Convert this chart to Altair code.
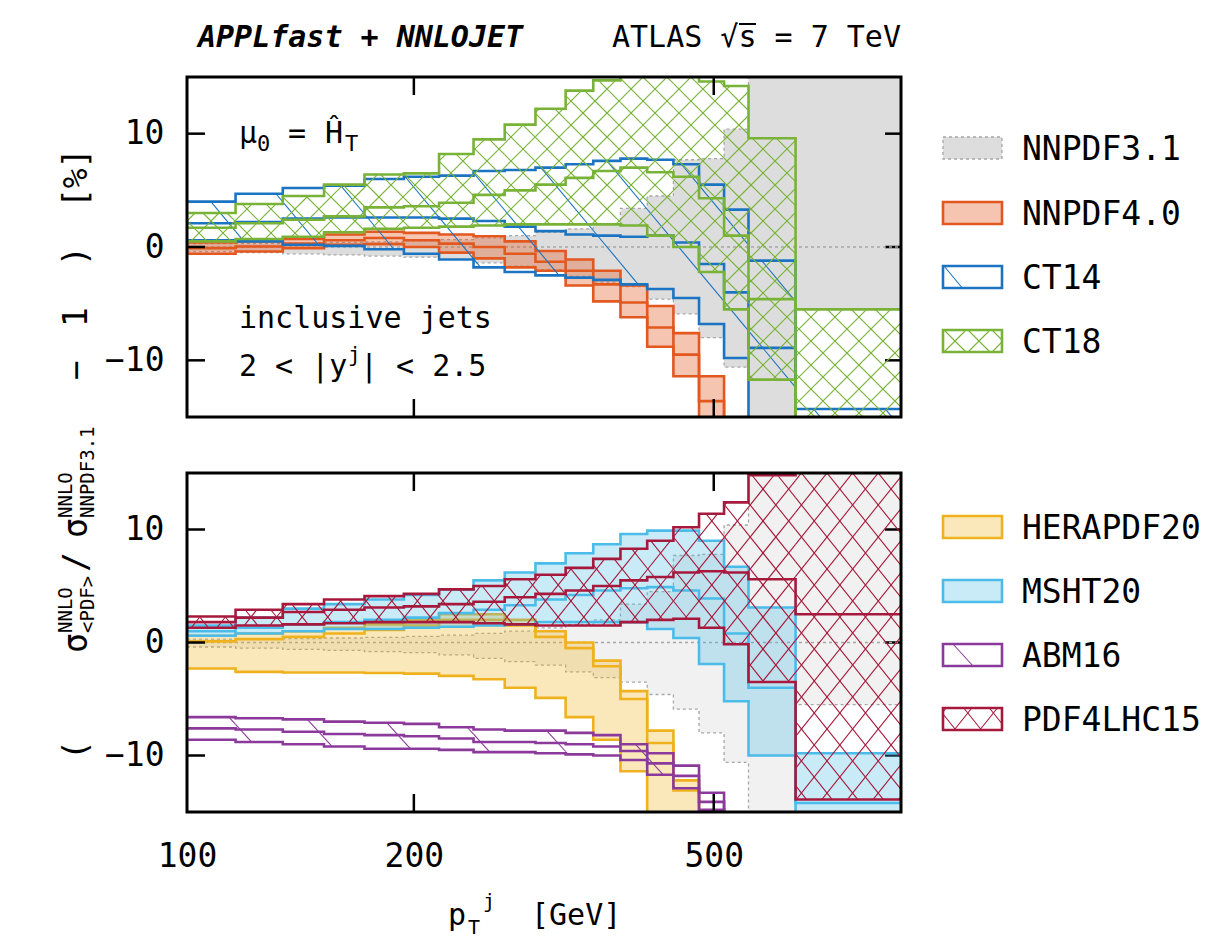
import math
import pandas as pd
import altair as alt

FONT = "DejaVu Sans Mono"

# ---------------------------------------------------------------- data
# pT bin edges [GeV]
EDGES = [100, 116, 134, 152, 172, 194, 216, 240, 264, 290, 318, 346, 376,
         408, 442, 478, 516, 556, 642, 886]

X_TICKS = [100, 200, 500]
Y_TICKS = [-10, 0, 10]

# ratio to NNPDF3.1 minus one, in percent: lower edge, central, upper edge per bin
NNPDF31_LO = [-0.4, -0.5, -0.6, -0.7, -0.8, -0.9, -1.1, -1.4, -1.7, -2.0, -2.6, -3.1, -3.5, -4.6, -5.9, -8.0, -10.6, -25.0, -5.5]
NNPDF31_C = [0.0, 0.0, 0.0, 0.0, 0.0, 0.0, 0.0, 0.0, 0.0, 0.0, 0.0, 0.0, 0.0, 0.0, 0.0, 0.0, 0.0, 0.0, 0.0]
NNPDF31_HI = [0.3, 0.3, 0.35, 0.4, 0.45, 0.55, 0.65, 0.8, 1.0, 1.3, 1.6, 2.0, 3.4, 4.5, 7.7, 7.8, 10.4, 25.0, 25.0]

NNPDF40_LO = [-0.6, -0.4, -0.1, 0.2, 0.25, 0.0, -0.5, -1.0, -1.8, -2.1, -3.4, -4.8, -6.2, -8.8, -11.4, -15.2, -19.0, -25.0, -35.0]
NNPDF40_C = [-0.1, 0.05, 0.3, 0.6, 0.8, 0.6, 0.3, 0.0, -0.6, -1.3, -2.1, -3.3, -4.9, -7.1, -9.5, -13.6, -17.0, -22.0, -30.0]
NNPDF40_HI = [0.4, 0.5, 0.7, 1.1, 1.35, 1.25, 1.1, 0.95, 0.5, -0.35, -1.1, -2.1, -3.4, -5.2, -7.6, -11.4, -15.5, -19.0, -25.0]

CT14_LO = [0.6, 0.5, 0.2, 0.1, -0.2, -0.6, -1.1, -1.8, -2.2, -2.5, -2.7, -2.9, -3.3, -3.7, -4.5, -6.8, -9.8, -20.0, -30.0]
CT14_C = [2.1, 2.2, 2.5, 2.6, 2.6, 2.6, 2.5, 2.3, 1.8, 1.4, 1.1, 1.0, 0.9, 1.0, 0.4, -1.5, -4.0, -8.9, -20.0]
CT14_HI = [4.0, 4.7, 5.2, 5.4, 6.0, 6.2, 6.3, 6.7, 6.8, 7.0, 7.3, 7.6, 7.8, 7.7, 7.3, 5.5, 3.3, -1.2, -14.3]

CT18_LO = [0.5, 0.7, 0.9, 1.3, 1.6, 1.7, 1.8, 1.9, 2.0, 2.0, 2.0, 2.0, 1.9, 1.0, 0.0, -2.2, -5.5, -11.7, -26.0]
CT18_C = [1.7, 2.1, 2.4, 2.7, 3.5, 3.6, 3.9, 4.6, 5.0, 5.5, 6.1, 6.7, 7.0, 6.6, 6.2, 4.3, 1.0, -4.6, -16.0]
CT18_HI = [3.0, 3.8, 4.5, 5.5, 6.4, 6.5, 8.2, 9.5, 10.8, 12.2, 13.8, 14.7, 16.0, 16.5, 16.0, 14.6, 14.2, 9.6, -5.5]

HERA_LO = [-2.3, -2.6, -2.65, -2.65, -2.7, -2.75, -2.95, -3.25, -4.0, -4.9, -6.6, -8.6, -11.4, -20.0, -20.0, -25.0, -25.0, -25.0, -25.0]
HERA_C = [0.1, 0.3, 0.5, 0.8, 1.1, 1.5, 2.0, 2.0, 1.5, 0.5, -0.5, -2.1, -5.0, -8.9, -13.1, -20.0, -22.0, -24.0, -24.0]
HERA_HI = [0.6, 0.8, 1.0, 1.3, 1.6, 2.0, 2.5, 2.5, 2.0, 1.0, 0.0, -1.6, -4.3, -7.8, -12.2, -17.0, -20.0, -22.0, -22.0]

MSHT_LO = [0.6, 0.8, 1.0, 1.2, 1.2, 1.3, 1.4, 1.5, 1.6, 1.8, 1.8, 1.8, 1.8, 1.2, 0.4, -1.9, -5.2, -10.0, -20.0]
MSHT_C = [1.0, 1.3, 1.6, 1.8, 2.0, 2.2, 2.6, 2.9, 3.3, 3.8, 4.2, 4.6, 4.8, 4.9, 4.6, 3.9, 0.8, -4.0, -14.2]
MSHT_HI = [1.5, 2.2, 3.0, 3.4, 3.8, 4.2, 4.7, 5.5, 6.2, 7.0, 7.9, 8.7, 9.6, 9.9, 9.9, 9.0, 6.7, 3.1, -9.8]

ABM_LO = [-8.6, -8.8, -9.0, -9.2, -9.4, -9.4, -9.5, -9.7, -9.7, -9.8, -9.9, -10.0, -10.4, -11.7, -12.9, -14.8, -22.0, -22.0, -22.0]
ABM_C = [-7.6, -7.7, -7.9, -8.1, -8.2, -8.3, -8.5, -8.8, -8.8, -8.9, -9.0, -9.2, -9.6, -10.7, -11.8, -14.1, -21.0, -21.0, -21.0]
ABM_HI = [-6.6, -6.7, -6.8, -7.0, -7.1, -7.2, -7.5, -7.7, -7.8, -7.8, -8.0, -8.2, -9.0, -9.8, -10.9, -13.3, -20.0, -20.0, -20.0]

PDF4LHC_LO = [1.3, 1.5, 1.6, 1.7, 1.8, 1.8, 1.8, 1.7, 1.6, 1.5, 1.5, 1.5, 1.8, 2.0, 2.1, 1.3, -0.15, -3.5, -13.9]
PDF4LHC_C = [1.8, 2.2, 2.7, 2.9, 3.1, 3.2, 3.4, 3.6, 4.0, 4.3, 4.6, 5.0, 5.5, 5.8, 6.2, 6.3, 6.2, 5.6, 2.5]
PDF4LHC_HI = [2.3, 2.9, 3.4, 3.8, 4.1, 4.3, 4.7, 5.0, 5.6, 6.0, 6.6, 7.4, 8.3, 9.0, 10.2, 11.4, 12.4, 14.8, 20.0]

TOP_NAMES = ["NNPDF3.1", "NNPDF4.0", "CT14", "CT18"]
BOTTOM_NAMES = ["HERAPDF20", "MSHT20", "ABM16", "PDF4LHC15"]

# ---------------------------------------------------------------- layout
W = 714                     # plot width of both panels
H_TOP, H_BOT = 340, 339     # plot heights
GAP = 56
XMIN, XMAX = 100, 886
YMIN, YMAX = -15, 15
LX = math.log10(XMAX / XMIN)
LW = 2.6                    # band outline width

XS = alt.Scale(type="log", domain=[XMIN, XMAX])
YS = alt.Scale(domain=[YMIN, YMAX])
ONE = pd.DataFrame({"k": [0]})

# hatch patterns: (slope, intercept spacing in px, phase)
BACK = [(1.2, 86.0, 10.0)]
CROSS_G = [(1.0, 24.0, 0.0), (-1.0, 24.0, 0.0)]
CROSS_R = [(1.25, 32.0, 0.0), (-1.25, 32.0, 0.0)]
BACK_P = [(1.1, 84.0, 30.0)]

STYLES = {
    "NNPDF3.1": dict(color="#a6a6a6", fill="black", fop=0.135, hatch=[], ref=True),
    "NNPDF4.0": dict(color="#e2581f", fill="#e2581f", fop=0.35, hatch=[]),
    "CT14": dict(color="#1b74c2", fill=None, fop=0, hatch=BACK, lead=1),
    "CT18": dict(color="#78b337", fill=None, fop=0, hatch=CROSS_G),
    "HERAPDF20": dict(color="#efb21e", fill="#efb21e", fop=0.3, hatch=[]),
    "MSHT20": dict(color="#4bbce9", fill="#4bbce9", fop=0.3, hatch=[]),
    "ABM16": dict(color="#8b3a9b", fill=None, fop=0, hatch=BACK_P, lead=10),
    "PDF4LHC15": dict(color="#a6193c", fill=None, fop=0, hatch=CROSS_R),
}


def ex(field, **kw):
    return alt.X(field, scale=XS, **kw)


def ey(field, **kw):
    return alt.Y(field, scale=YS, **kw)


def hatch_lines(x0s, x1s, los, his, slope, spacing, phase, fx, fy, ix, iy, ylim):
    """Clip a family of parallel lines (straight on screen) to each box."""
    rows = []
    for x0, x1, lo, hi in zip(x0s, x1s, los, his):
        lo_c, hi_c = max(lo, ylim[0]), min(hi, ylim[1])
        if hi_c <= lo_c:
            continue
        a, b = fx(x0), fx(x1)
        top, bot = fy(hi_c), fy(lo_c)
        cs = [top - slope * a, top - slope * b, bot - slope * a, bot - slope * b]
        k0 = math.ceil((min(cs) - phase) / spacing)
        k1 = math.floor((max(cs) - phase) / spacing)
        for k in range(k0, k1 + 1):
            c = phase + k * spacing
            t0, t1 = sorted(((top - c) / slope, (bot - c) / slope))
            s, e = max(a, t0), min(b, t1)
            if e - s > 0.3:
                rows.append((ix(s), ix(e), iy(slope * s + c), iy(slope * e + c)))
    return pd.DataFrame(rows, columns=["hx", "hx2", "hy", "hy2"])


def hatch_layer(hd, color, clip):
    return alt.Chart(hd).mark_rule(clip=clip, color=color, strokeWidth=1.1).encode(
        x=ex("hx:Q"), x2="hx2:Q", y=ey("hy:Q"), y2="hy2:Q")


def txt(s, x, y, size=30, **kw):
    props = dict(text=s, font=FONT, fontSize=size, align="left", baseline="alphabetic",
                 color="black")
    props.update(kw)
    return alt.Chart(ONE).mark_text(**props).encode(x=alt.value(x), y=alt.value(y))


def panel(series, h, names, leg_centres, show_x, extra, ref_fop):
    fx = lambda x: W * math.log10(x / XMIN) / LX
    ix = lambda p: XMIN * 10 ** (p * LX / W)
    fy = lambda y: h * (YMAX - y) / (YMAX - YMIN)
    iy = lambda p: YMAX - p * (YMAX - YMIN) / h

    y_axis = alt.Axis(values=Y_TICKS, ticks=False, domain=False, grid=False, title=None,
                      labelFont=FONT, labelFontSize=33, labelPadding=23, labelColor="black")
    if show_x:
        x_axis = alt.Axis(values=X_TICKS, format="d", ticks=False, domain=False, grid=False,
                          title=None, labelFont=FONT, labelFontSize=33, labelPadding=28,
                          labelColor="black", labelFlush=False, labelOverlap=False)
    else:
        x_axis = alt.Axis(values=X_TICKS, labels=False, ticks=False, domain=False, grid=False,
                          title=None)

    xt = pd.DataFrame({"v": X_TICKS[1:]})
    yt = pd.DataFrame({"v": Y_TICKS})
    guide = pd.DataFrame({"gx": X_TICKS, "gy": Y_TICKS})

    # the axes live on this first, invisible layer
    layers = [alt.Chart(guide).mark_point(opacity=0).encode(
        x=ex("gx:Q", axis=x_axis), y=ey("gy:Q", axis=y_axis))]

    for name, lo, c, hi in series:
        st = STYLES[name]
        color = st["color"]
        bins = pd.DataFrame({"x0": EDGES[:-1], "x1": EDGES[1:], "lo": lo, "hi": hi})
        band = pd.DataFrame({"x": EDGES, "lo": lo + lo[-1:], "hi": hi + hi[-1:],
                             "c": c + c[-1:]})
        if st.get("ref"):
            layers.append(alt.Chart(band).mark_area(
                clip=True, interpolate="step-after", color="black", fillOpacity=ref_fop
            ).encode(x=ex("x:Q"), y=ey("lo:Q"), y2="hi:Q"))
            # right-hand ticks show through the reference band
            layers.append(alt.Chart(yt).mark_rule(color="black", strokeWidth=2.5).encode(
                y=ey("v:Q"), x=alt.value(W - 16), x2=alt.value(W)))
            for col in ("lo", "hi", "c"):
                layers.append(alt.Chart(band).mark_line(
                    clip=True, interpolate="step-after", color=color, strokeWidth=1.3,
                    strokeDash=[3, 3]).encode(x=ex("x:Q"), y=ey(f"{col}:Q")))
        else:
            if st["fill"]:
                layers.append(alt.Chart(band).mark_area(
                    clip=True, interpolate="step-after", color=st["fill"], fillOpacity=st["fop"]
                ).encode(x=ex("x:Q"), y=ey("lo:Q"), y2="hi:Q"))
            for slope, spacing, phase in st["hatch"]:
                hd = hatch_lines(bins["x0"], bins["x1"], bins["lo"], bins["hi"], slope, spacing,
                                 phase, fx, fy, ix, iy, (-15.5, 15.5))
                layers.append(hatch_layer(hd, color, True))
            for col in ("lo", "hi", "c"):
                layers.append(alt.Chart(band).mark_line(
                    clip=True, interpolate="step-after", color=color, strokeWidth=LW,
                    strokeJoin="miter").encode(x=ex("x:Q"), y=ey(f"{col}:Q")))

    # inward ticks and frame
    layers += [
        alt.Chart(xt).mark_rule(color="black", strokeWidth=2.5).encode(
            x=ex("v:Q"), y=alt.value(0), y2=alt.value(18)),
        alt.Chart(xt).mark_rule(color="black", strokeWidth=2.5).encode(
            x=ex("v:Q"), y=alt.value(h - 18), y2=alt.value(h)),
        alt.Chart(yt).mark_rule(color="black", strokeWidth=2.5).encode(
            y=ey("v:Q"), x=alt.value(0), x2=alt.value(18)),
        alt.Chart(ONE).mark_rect(fillOpacity=0, stroke="black", strokeWidth=3).encode(
            x=alt.value(0), x2=alt.value(W), y=alt.value(0), y2=alt.value(h)),
    ]

    # legend, placed right of the frame through the same scales
    bx0, bx1, half, tx = 756, 815, 11, 835
    for name, cy in zip(names, leg_centres):
        st = STYLES[name]
        color = st["color"]
        box = pd.DataFrame({"x0": [ix(bx0)], "x1": [ix(bx1)],
                            "lo": [iy(cy + half)], "hi": [iy(cy - half)]})
        benc = dict(x=ex("x0:Q"), x2="x1:Q", y=ey("lo:Q"), y2="hi:Q")
        if st.get("ref"):
            layers.append(alt.Chart(box).mark_rect(fill="black", fillOpacity=ref_fop,
                                                   strokeWidth=0).encode(**benc))
            layers.append(alt.Chart(box).mark_rect(fillOpacity=0, stroke=color, strokeWidth=1.3,
                                                   strokeDash=[3, 3]).encode(**benc))
        else:
            if st["fill"]:
                layers.append(alt.Chart(box).mark_rect(fill=st["fill"], fillOpacity=st["fop"],
                                                       strokeWidth=0).encode(**benc))
            for slope, spacing, phase in st["hatch"]:
                if "lead" in st:
                    phase = (cy - half) - slope * (bx0 + st["lead"])
                hd = hatch_lines(box["x0"], box["x1"], box["lo"], box["hi"], slope, spacing,
                                 phase, fx, fy, ix, iy, (-30, 30))
                layers.append(hatch_layer(hd, color, False))
            layers.append(alt.Chart(box).mark_rect(fillOpacity=0, stroke=color,
                                                   strokeWidth=LW).encode(**benc))
    lt = pd.DataFrame({"name": names, "tx": [ix(tx)] * 4, "ty": [iy(c) for c in leg_centres]})
    layers.append(alt.Chart(lt).mark_text(font=FONT, fontSize=33, align="left",
                                          baseline="alphabetic", dy=12, color="black").encode(
        x=ex("tx:Q"), y=ey("ty:Q"), text="name:N"))

    layers += extra
    return alt.layer(*layers).properties(width=W, height=h)


# ---------------------------------------------------------------- texts
YT = -100          # baseline of the rotated axis title
top_text = [
    # canvas anchor (invisible)
    alt.Chart(ONE).mark_rect(fillOpacity=0, strokeOpacity=0).encode(
        x=alt.value(-187), x2=alt.value(1026), y=alt.value(-77), y2=alt.value(865)),
    txt("APPLfast + NNLOJET", 11, -30, fontWeight="bold", fontStyle="italic"),
    txt("ATLAS √s = 7 TeV", 425, -30),
    alt.Chart(ONE).mark_rule(color="black", strokeWidth=2).encode(
        x=alt.value(552), x2=alt.value(569), y=alt.value(-53)),
    txt("μ", 52, 66),
    txt("0", 70, 74, size=22),
    txt("=", 101, 66),
    txt("Ĥ", 138, 66),
    txt("T", 158, 74, size=22),
    txt("inclusive jets", 52, 251),
    txt("2 < |y", 52, 299),
    txt("j", 161, 285, size=21),
    txt("| < 2.5", 173, 299),
    # rotated axis title
    txt("(", YT, 683, size=33, angle=270),
    txt("σ", YT, 576, size=33, angle=270),
    txt("NNLO", YT - 15, 556, size=19, angle=270),
    txt("<PDF>", YT + 7, 556, size=19, angle=270),
    txt("/", YT, 495, size=33, angle=270),
    txt("σ", YT, 461, size=33, angle=270),
    txt("NNLO", YT - 15, 441, size=19, angle=270),
    txt("NNPDF3.1", YT + 7, 441, size=19, angle=270),
    txt("−", YT, 303, size=33, angle=270),
    txt("1", YT, 250, size=33, angle=270),
    txt(")", YT, 189, size=33, angle=270),
    txt("[%]", YT, 131, size=33, angle=270),
]

bottom_text = [
    txt("p", 261, 452),
    txt("T", 281, 461, size=20),
    txt("j", 296, 435, size=20),
    txt("[GeV]", 344, 452),
]

top = panel(
    [("NNPDF3.1", NNPDF31_LO, NNPDF31_C, NNPDF31_HI),
     ("NNPDF4.0", NNPDF40_LO, NNPDF40_C, NNPDF40_HI),
     ("CT14", CT14_LO, CT14_C, CT14_HI),
     ("CT18", CT18_LO, CT18_C, CT18_HI)],
    H_TOP, TOP_NAMES, [71, 136, 200, 264], False, top_text, 0.135)

bottom = panel(
    [("NNPDF3.1", NNPDF31_LO, NNPDF31_C, NNPDF31_HI),
     ("HERAPDF20", HERA_LO, HERA_C, HERA_HI),
     ("MSHT20", MSHT_LO, MSHT_C, MSHT_HI),
     ("ABM16", ABM_LO, ABM_C, ABM_HI),
     ("PDF4LHC15", PDF4LHC_LO, PDF4LHC_C, PDF4LHC_HI)],
    H_BOT, BOTTOM_NAMES, [54, 118, 182, 246], True, bottom_text, 0.055)

chart = alt.vconcat(top, bottom, spacing=GAP, bounds="flush").properties(
    padding=0, background="white"
).configure_view(stroke=None)

chart.save("out.html", embed_options={"renderer": "svg", "actions": False})
